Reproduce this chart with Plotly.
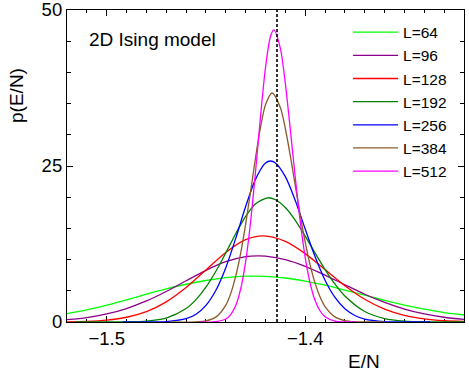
import plotly.graph_objects as go

# ---- data ----
sizes = ["L=64", "L=96", "L=128", "L=192", "L=256", "L=384", "L=512"]
colors = ["#00ff00", "#8b008b", "#ff0000", "#008000", "#0000ff", "#8b5a2b", "#ff00ff"]

E64 = [-1.52, -1.51, -1.50, -1.49, -1.48, -1.47, -1.46, -1.45, -1.44, -1.43, -1.42,
       -1.41, -1.40, -1.39, -1.38, -1.37, -1.36, -1.35, -1.34, -1.33, -1.32]
P64 = [1.35, 1.95, 2.70, 3.55, 4.45, 5.30, 6.05, 6.65, 7.10, 7.35, 7.30,
       7.05, 6.55, 5.90, 5.10, 4.30, 3.45, 2.70, 2.05, 1.50, 1.12]

E96 = [-1.52, -1.51, -1.50, -1.49, -1.48, -1.47, -1.46, -1.45, -1.44, -1.43, -1.424,
       -1.42, -1.41, -1.40, -1.39, -1.38, -1.37, -1.36, -1.35, -1.34, -1.33, -1.32]
P96 = [0.37, 0.71, 1.29, 2.16, 3.37, 4.89, 6.61, 8.28, 9.66, 10.46, 10.6,
       10.55, 10.0, 8.93, 7.52, 5.96, 4.45, 3.14, 2.08, 1.30, 0.76, 0.42]

E128 = [-1.52, -1.51, -1.50, -1.49, -1.48, -1.47, -1.46, -1.45, -1.44, -1.43, -1.421,
        -1.41, -1.40, -1.39, -1.38, -1.37, -1.36, -1.35, -1.34, -1.33, -1.32]
P128 = [0.03, 0.11, 0.31, 0.76, 1.67, 3.23, 5.52, 8.34, 11.15, 13.19, 13.8,
        12.93, 10.96, 8.40, 5.82, 3.65, 2.06, 1.06, 0.49, 0.20, 0.08]

E192 = [-1.516, -1.50, -1.49, -1.48, -1.47, -1.46, -1.455, -1.45, -1.445, -1.44, -1.435,
        -1.43, -1.425, -1.419, -1.415, -1.41, -1.405, -1.40, -1.395, -1.39, -1.385,
        -1.38, -1.37, -1.36, -1.35, -1.34, -1.32]
P192 = [0.0, 0.01, 0.03, 0.15, 0.64, 2.16, 3.59, 5.58, 8.13, 11.08, 14.15,
        16.92, 18.95, 19.9, 19.59, 18.34, 16.3, 13.76, 11.03, 8.40, 6.07,
        4.17, 1.68, 0.55, 0.15, 0.03, 0.0]

E256 = [-1.492, -1.48, -1.47, -1.46, -1.455, -1.45, -1.445, -1.44, -1.435, -1.43, -1.425,
        -1.42, -1.4175, -1.415, -1.41, -1.405, -1.40, -1.395, -1.39, -1.385, -1.38,
        -1.375, -1.37, -1.36, -1.35, -1.337]
P256 = [0.0, 0.0, 0.07, 0.53, 1.25, 2.66, 5.08, 8.71, 13.4, 18.5, 22.9,
        25.48, 25.8, 25.49, 23.29, 19.47, 14.9, 10.44, 6.69, 3.93, 2.11,
        1.04, 0.47, 0.07, 0.01, 0.0]

E384 = [-1.468, -1.455, -1.45, -1.445, -1.44, -1.4375, -1.435, -1.4325, -1.43, -1.4275,
        -1.425, -1.4225, -1.42, -1.4167, -1.4125, -1.41, -1.4075, -1.405, -1.4025, -1.40,
        -1.3975, -1.395, -1.3925, -1.39, -1.385, -1.38, -1.375, -1.36]
P384 = [0.0, 0.02, 0.18, 0.78, 2.70, 4.59, 7.34, 11.05, 15.69, 20.95,
        26.36, 31.22, 34.83, 36.7, 34.33, 30.97, 26.65, 21.87, 17.12, 12.79,
        9.10, 6.19, 4.01, 2.48, 0.82, 0.23, 0.05, 0.0]

E512 = [-1.453, -1.445, -1.44, -1.4375, -1.435, -1.4325, -1.43, -1.4275, -1.425, -1.4225,
        -1.42, -1.4175, -1.4158, -1.4125, -1.41, -1.4075, -1.405, -1.4025, -1.40, -1.3975,
        -1.395, -1.3925, -1.39, -1.385, -1.38, -1.375]
P512 = [0.0, 0.06, 0.48, 1.18, 2.63, 5.30, 9.69, 16.07, 24.16, 32.96,
        40.78, 45.76, 46.8, 43.82, 38.2, 30.87, 23.14, 16.09, 10.37, 6.20,
        3.43, 1.76, 0.84, 0.15, 0.02, 0.0]

E_series = [E64, E96, E128, E192, E256, E384, E512]
P_series = [P64, P96, P128, P192, P256, P384, P512]

E_CRIT = -1.4142          # dashed vertical line (exact critical energy)
x_ticks = [-1.5, -1.4]
y_ticks = [0, 25, 50]

FONT = "Liberation Sans, Arial, Helvetica, sans-serif"

fig = go.Figure()
for name, col, ex, py in zip(sizes, colors, E_series, P_series):
    fig.add_trace(go.Scatter(x=ex, y=py, mode="lines", name=name,
                             line=dict(color=col, width=1.3, shape="spline", smoothing=0.8)))

fig.add_trace(go.Scatter(x=[E_CRIT, E_CRIT], y=[0, 50], mode="lines", showlegend=False,
                         line=dict(color="black", width=1.6, dash="3px,2px")))

axis_common = dict(showline=True, linecolor="black", linewidth=1.2, mirror="allticks",
                   ticks="inside", tickcolor="black", showgrid=False, zeroline=False,
                   tickfont=dict(family=FONT, size=18.5, color="black"),
                   ticklabeloverflow="allow", automargin=False,
                   layer="below traces")

fig.update_xaxes(range=[-1.52, -1.32], tickvals=x_ticks, ticklen=6, tickwidth=1.2,
                 ticktext=["\u22121.5", "\u22121.4"],
                 minor=dict(dtick=0.01, ticklen=3, tickcolor="black", ticks="inside", tickwidth=1),
                 **axis_common)
fig.update_yaxes(range=[0, 50.0001], tickvals=y_ticks, ticktext=["0", "25", "50"],
                 ticklen=6, tickwidth=1.2,
                 minor=dict(dtick=5, ticklen=4, tickcolor="black", ticks="inside", tickwidth=1),
                 **axis_common)

fig.update_layout(
    width=469, height=377,
    margin=dict(l=67, r=5, t=10, b=55),
    paper_bgcolor="white", plot_bgcolor="white",
    font=dict(family=FONT, color="black"),
    legend=dict(x=0.708, y=0.982, xanchor="left", yanchor="top",
                bgcolor="rgba(0,0,0,0)", font=dict(family=FONT, size=15.5),
                itemwidth=45, tracegroupgap=0),
    annotations=[
        dict(text="E/N", xref="paper", yref="paper", x=0.748, y=-0.128,
             xanchor="center", yanchor="middle", showarrow=False,
             font=dict(family=FONT, size=19)),
        dict(text="p(E/N)", xref="paper", yref="paper", x=-0.126, y=0.7276,
             xanchor="center", yanchor="middle", textangle=-90, showarrow=False,
             font=dict(family=FONT, size=19)),
        dict(text="2D Ising model", xref="paper", yref="paper", x=0.05, y=0.904,
             xanchor="left", yanchor="middle", showarrow=False,
             font=dict(family=FONT, size=19)),
    ],
)

fig.write_html("out.html", config={"displayModeBar": False},
               post_script="document.body.style.margin='0';document.body.style.overflow='hidden';")
